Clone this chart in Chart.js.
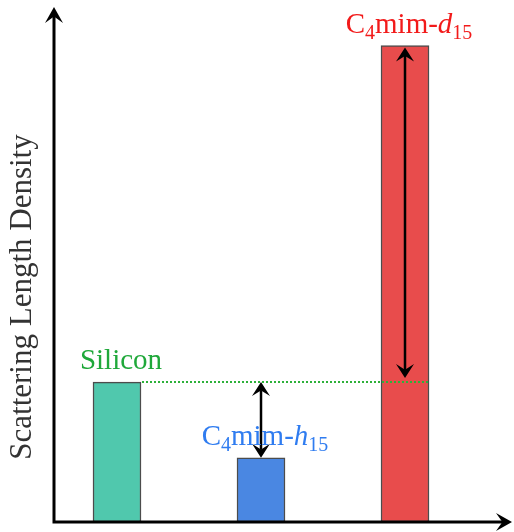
<!DOCTYPE html>
<html>
<head>
<meta charset="utf-8">
<script src="https://cdn.jsdelivr.net/npm/chart.js@4"></script>
<style>
  html, body { margin: 0; padding: 0; background: #fff; }
  #wrap { width: 514px; height: 532px; }
</style>
</head>
<body>
<div id="wrap"><canvas id="sldChart" width="514" height="532"></canvas></div>
<script>
// values (SLD, 1e-6 A^-2 roughly)
const categories = ['Silicon', 'C4mim-h15', 'C4mim-d15'];
const positions = [0, 1, 2];
const sldValues = [2.07, 0.95, 7.05];
const barColors = ['#50C8AD', '#4A87E2', '#E84C4C'];
const labelColors = ['#1FA83A', '#2F7CF0', '#F21A1A'];
const yTitle = 'Scattering Length Density';

const SERIF = '"Liberation Serif", "Times New Roman", serif';

// split "C4mim-d15" into text pieces with subscripts / italic
function labelParts(name) {
  const m = name.match(/^C(\d)mim-([a-z])(\d+)$/);
  if (!m) return [{ t: name }];
  return [
    { t: 'C' }, { t: m[1], sub: true },
    { t: 'mim-' }, { t: m[2], it: true }, { t: m[3], sub: true }
  ];
}

function partFont(p) {
  const size = p.sub ? 20 : 29;
  return (p.it ? 'italic ' : '') + size + 'px ' + SERIF;
}

function drawLabel(ctx, name, cx, baseline, color) {
  const parts = labelParts(name);
  let total = 0;
  parts.forEach(p => { ctx.font = partFont(p); p.w = ctx.measureText(p.t).width; total += p.w; });
  let x = cx - total / 2;
  ctx.fillStyle = color;
  ctx.textAlign = 'left';
  ctx.textBaseline = 'alphabetic';
  parts.forEach(p => {
    ctx.font = partFont(p);
    ctx.fillText(p.t, x, baseline + (p.sub ? 6 : 0));
    x += p.w;
  });
}

// filled "stealth" arrow head, tip at (x,y), pointing along angle a
function arrowHead(ctx, x, y, a, w, len) {
  ctx.save();
  ctx.translate(x, y);
  ctx.rotate(a);
  ctx.beginPath();
  ctx.moveTo(0, 0);
  ctx.lineTo(-len, -w / 2);
  ctx.lineTo(-len * 0.6, 0);
  ctx.lineTo(-len, w / 2);
  ctx.closePath();
  ctx.fill();
  ctx.restore();
}

function doubleArrow(ctx, x, y1, y2) {
  ctx.strokeStyle = '#000';
  ctx.fillStyle = '#000';
  ctx.lineWidth = 2.5;
  ctx.beginPath();
  ctx.moveTo(x, y1 + 8);
  ctx.lineTo(x, y2 - 8);
  ctx.stroke();
  arrowHead(ctx, x, y1, -Math.PI / 2, 18, 14);
  arrowHead(ctx, x, y2, Math.PI / 2, 18, 14);
}

const decorations = {
  id: 'decorations',
  afterDatasetsDraw(chart) {
    const ctx = chart.ctx;
    const ys = chart.scales.y;
    const area = chart.chartArea;
    const bars = chart.getDatasetMeta(0).data;
    ctx.save();

    // axes with arrow heads
    ctx.strokeStyle = '#000';
    ctx.fillStyle = '#000';
    ctx.lineWidth = 3;
    ctx.beginPath();
    ctx.moveTo(area.left, area.top + 6);
    ctx.lineTo(area.left, area.bottom);
    ctx.lineTo(area.right - 6, area.bottom);
    ctx.stroke();
    arrowHead(ctx, area.left, area.top, -Math.PI / 2, 18, 16);
    arrowHead(ctx, area.right, area.bottom, 0, 18, 16);

    // dotted reference line at the silicon level
    const ySi = ys.getPixelForValue(sldValues[0]);
    ctx.strokeStyle = '#2DB03A';
    ctx.lineWidth = 2;
    ctx.setLineDash([2, 2]);
    ctx.beginPath();
    ctx.moveTo(bars[0].x + bars[0].width / 2 + 1, ySi);
    ctx.lineTo(bars[2].x + bars[2].width / 2, ySi);
    ctx.stroke();
    ctx.setLineDash([]);

    // contrast arrows
    doubleArrow(ctx, bars[1].x, ySi, ys.getPixelForValue(sldValues[1]));
    doubleArrow(ctx, bars[2].x, ys.getPixelForValue(sldValues[2]) + 2, ySi - 4);

    // bar labels
    categories.forEach((name, i) => {
      drawLabel(ctx, name, bars[i].x + 4, ys.getPixelForValue(sldValues[i]) - 13, labelColors[i]);
    });

    // y axis title
    ctx.translate(23, 297);
    ctx.rotate(-Math.PI / 2);
    ctx.font = '31px ' + SERIF;
    ctx.fillStyle = '#333';
    ctx.textAlign = 'center';
    ctx.textBaseline = 'middle';
    ctx.fillText(yTitle, 0, 0);

    ctx.restore();
  }
};

new Chart(document.getElementById('sldChart').getContext('2d'), {
  type: 'bar',
  data: {
    datasets: [{
      label: yTitle,
      data: positions.map((x, i) => ({ x: x, y: sldValues[i] })),
      backgroundColor: barColors,
      borderColor: 'rgba(45,45,45,0.85)',
      borderWidth: 1.5,
      borderSkipped: false,
      barThickness: 48
    }]
  },
  options: {
    responsive: false,
    animation: false,
    layout: { padding: { left: 54, right: 2, top: 7, bottom: 10 } },
    plugins: { legend: { display: false }, tooltip: { enabled: false } },
    scales: {
      x: { type: 'linear', offset: false, min: -0.4375, max: 2.743, display: false },
      y: { min: 0, max: 7.62, display: false }
    }
  },
  plugins: [decorations]
});
</script>
</body>
</html>
